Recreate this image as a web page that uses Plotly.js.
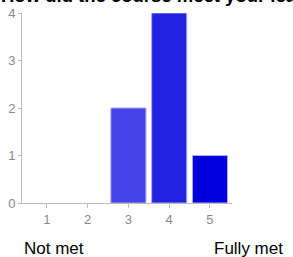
<!DOCTYPE html>
<html>
<head>
<meta charset="utf-8">
<script src="https://cdn.plot.ly/plotly-3.0.1.min.js"></script>
<style>html,body{margin:0;padding:0;background:#fff;}#chart{width:293px;height:257px;}</style>
</head>
<body>
<div id="chart"></div>
<script>
var categories = [1, 2, 3, 4, 5];
var counts = [0, 0, 2, 4, 1];
var barColors = ['#5555ee', '#4a4aee', '#4444e8', '#2222e0', '#0000dd'];
var yTicks = [0, 1, 2, 3, 4];
var titleText = 'How did the course meet your learning expectations?';
var lowLabel = 'Not met';
var highLabel = 'Fully met';

var trace = {
  type: 'bar',
  x: categories,
  y: counts,
  width: 0.86,
  marker: {color: barColors, line: {color: '#a8a8ff', width: counts.map(function(v){return v > 0 ? 1 : 0;})}},
  hoverinfo: 'none'
};

var layout = {
  width: 293, height: 257,
  margin: {l: 22, r: 61, t: 13, b: 54, pad: 0},
  paper_bgcolor: '#fff', plot_bgcolor: '#fff',
  showlegend: false,
  font: {family: 'Liberation Sans, Arial, sans-serif'},
  xaxis: {
    range: [0.39, 5.54],
    tickvals: categories,
    ticktext: categories.map(String),
    showgrid: false, zeroline: false,
    showline: true, linecolor: '#bbbbbb', linewidth: 1,
    ticks: 'outside', ticklen: 4, tickcolor: '#bbbbbb',
    tickfont: {size: 13, color: '#888888'},
    fixedrange: true
  },
  yaxis: {
    range: [0, 4],
    tickvals: yTicks,
    ticktext: yTicks.map(String),
    showgrid: false, zeroline: false,
    showline: true, linecolor: '#bbbbbb', linewidth: 1,
    ticks: 'outside', ticklen: 3, tickcolor: '#bbbbbb',
    tickfont: {size: 13, color: '#888888'},
    fixedrange: true
  },
  annotations: [
    {text: '<b>' + titleText + '</b>', xref: 'paper', yref: 'paper',
     x: -23/210, y: 1 + 17/190, xanchor: 'left', yanchor: 'middle',
     showarrow: false, font: {size: 18.5, color: '#000'}},
    {text: lowLabel, xref: 'paper', yref: 'paper',
     x: 0, y: -45/190, xanchor: 'left', yanchor: 'middle',
     showarrow: false, font: {size: 17, color: '#000'}},
    {text: highLabel, xref: 'paper', yref: 'paper',
     x: (285-22)/210, y: -45/190, xanchor: 'right', yanchor: 'middle',
     showarrow: false, font: {size: 17, color: '#000'}}
  ]
};

Plotly.newPlot('chart', [trace], layout, {displayModeBar: false, staticPlot: true});
</script>
</body>
</html>
